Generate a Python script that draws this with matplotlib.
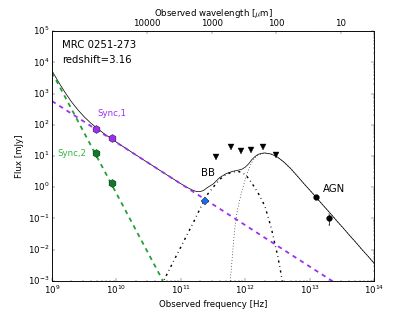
import numpy as np
import matplotlib
matplotlib.use('Agg')
import matplotlib.pyplot as plt
from matplotlib.ticker import FixedLocator, FixedFormatter, LogLocator, NullFormatter

# photometry (Hz, mJy)
sync1_nu = [4.86e9, 8.46e9]
sync1_flux = [73.0, 37.0]
sync2_nu = [4.86e9, 8.46e9]
sync2_flux = [12.3, 1.4]
mm_nu = [2.34e11]
mm_flux = [0.35]
mir_nu = [1.25e13]
mir_flux = [0.49]
irs_nu = [1.95e13]
irs_flux = [0.10]
irs_err = [0.04]
lim_nu = [3.53e11, 6.0e11, 8.57e11, 1.2e12, 1.87e12, 3.0e12]
lim_flux = [9.5, 20.0, 14.5, 16.0, 20.0, 10.7]

# model components: log10(nu), log10(flux)
sync1_lognu = [9.0, 14.0]
sync1_logf = [2.76, -3.875]
sync2_lognu = [9.0, 10.72]
sync2_logf = [3.68, -3.0]

bb_lognu = [10.70, 10.80, 10.90, 11.00, 11.10, 11.20, 11.30, 11.40, 11.50, 11.60,
            11.70, 11.80, 11.90, 12.00, 12.10, 12.20, 12.30, 12.40, 12.50, 12.55, 12.60]
bb_logf = [-3.13, -2.72, -2.31, -1.91, -1.50, -1.10, -0.67, -0.26, 0.00, 0.25,
           0.41, 0.49, 0.50, 0.41, 0.13, -0.20, -0.60, -1.30, -2.20, -2.75, -3.40]

agn_lognu = [11.76, 11.78, 11.80, 11.82, 11.84, 11.86, 11.88, 11.91, 11.94, 11.97,
             12.00, 12.05, 12.10, 12.15, 12.20, 12.25, 12.30, 12.40, 12.50, 12.60,
             12.70, 12.80, 12.90, 13.00, 13.10, 13.20, 13.30, 13.40, 13.50, 13.60,
             13.70, 13.80, 13.90, 14.00]
agn_logf = [-3.10, -2.65, -2.13, -1.64, -1.24, -0.93, -0.69, -0.41, -0.17, 0.05,
            0.27, 0.57, 0.80, 0.94, 1.03, 1.07, 1.09, 1.06, 0.96, 0.80,
            0.60, 0.37, 0.13, -0.10, -0.33, -0.57, -0.80, -1.04, -1.27, -1.51,
            -1.74, -1.98, -2.21, -2.45]

total_lognu = [9.0, 9.1, 9.2, 9.3, 9.4, 9.5, 9.6, 9.7, 9.8, 9.9,
               10.0, 10.1, 10.2, 10.3, 10.4, 10.5, 10.6, 10.7, 10.8, 10.9,
               11.0, 11.1, 11.2, 11.25, 11.3, 11.35, 11.4, 11.5, 11.6, 11.7,
               11.8, 11.9, 11.95, 12.0, 12.05, 12.1, 12.15, 12.2, 12.25, 12.3,
               12.4, 12.5, 12.6, 12.7, 12.8, 12.9, 13.0, 13.1, 13.2, 13.3,
               13.4, 13.5, 13.6, 13.7, 13.8, 13.9, 14.0]
total_logf = [3.73, 3.375, 3.045, 2.743, 2.483, 2.255, 2.058, 1.886, 1.729, 1.584,
              1.443, 1.306, 1.171, 1.037, 0.903, 0.770, 0.637, 0.504, 0.372, 0.240,
              0.110, -0.013, -0.112, -0.139, -0.138, -0.107, -0.026, 0.105, 0.307, 0.435,
              0.507, 0.551, 0.581, 0.647, 0.750, 0.887, 0.986, 1.056, 1.085, 1.099,
              1.062, 0.96, 0.80, 0.60, 0.37, 0.13, -0.10, -0.33, -0.57, -0.80,
              -1.04, -1.27, -1.51, -1.74, -1.98, -2.21, -2.45]

wl_ticks = [10, 100, 1000, 10000]
wl_labels = ['10', '100', '1000', '10000']
c_um = 2.998e14

purple = '#9b30f0'
green = '#22a035'
dkgreen = '#0f7a2c'

plt.style.use('classic')
fig = plt.figure(figsize=(8, 6), facecolor='white')
ax = fig.add_subplot(111)

lg = lambda a: 10 ** np.array(a)

ax.plot(lg(total_lognu), lg(total_logf), 'k-', lw=1)
ax.plot(lg(sync1_lognu), lg(sync1_logf), '--', color=purple, lw=2.5)
ax.plot(lg(sync2_lognu), lg(sync2_logf), '--', color=green, lw=2.5)
ax.plot(lg(bb_lognu), lg(bb_logf), 'k-.', lw=2)
ax.plot(lg(agn_lognu), lg(agn_logf), 'k:', lw=1)

ax.plot(sync1_nu, sync1_flux, 'h', color=purple, mec='k', ms=11)
ax.plot(sync2_nu, sync2_flux, 'h', color=dkgreen, mec='k', ms=11)
ax.plot(mm_nu, mm_flux, 'D', color='#1a6cf0', mec='k', ms=8)
ax.plot(mir_nu, mir_flux, 'o', color='k', ms=8)
ax.errorbar(irs_nu, irs_flux, yerr=irs_err, fmt='o', color='k', ms=8, capsize=2)
ax.plot(lim_nu, lim_flux, 'v', color='k', ms=7)

ax.set_xscale('log')
ax.set_yscale('log')
ax.set_xlim(1e9, 1e14)
ax.set_ylim(1e-3, 1e5)
ax.set_xlabel('Observed frequency [Hz]', fontsize=12)
ax.set_ylabel('Flux [mJy]', fontsize=12)
ax.tick_params(labelsize=12)

ax.text(0.032, 0.934, 'MRC 0251-273', transform=ax.transAxes, fontsize=14, va='baseline')
ax.text(0.032, 0.874, 'redshift=3.16', transform=ax.transAxes, fontsize=14, va='baseline')
ax.text(10 ** 9.70, 10 ** 2.29, 'Sync,1', color=purple, fontsize=12, va='baseline')
ax.text(10 ** 9.09, 10 ** 1.01, 'Sync,2', color='#33b540', fontsize=12, va='baseline')
ax.text(10 ** 11.31, 10 ** 0.37, 'BB', fontsize=14, va='baseline')
ax.text(10 ** 13.20, 10 ** -0.14, 'AGN', fontsize=14, va='baseline')

ax2 = ax.twiny()
ax2.set_xscale('log')
ax2.set_xlim(c_um / 1e9, c_um / 1e14)
ax2.xaxis.set_major_locator(FixedLocator(wl_ticks))
ax2.xaxis.set_major_formatter(FixedFormatter(wl_labels))
ax2.xaxis.set_minor_locator(LogLocator(base=10, subs=np.arange(2, 10)))
ax2.xaxis.set_minor_formatter(NullFormatter())
ax2.tick_params(labelsize=12)
ax2.set_xlabel(r'Observed wavelength [$\mu$m]', fontsize=12)

fig.savefig('out.png', dpi=52, facecolor='white')
